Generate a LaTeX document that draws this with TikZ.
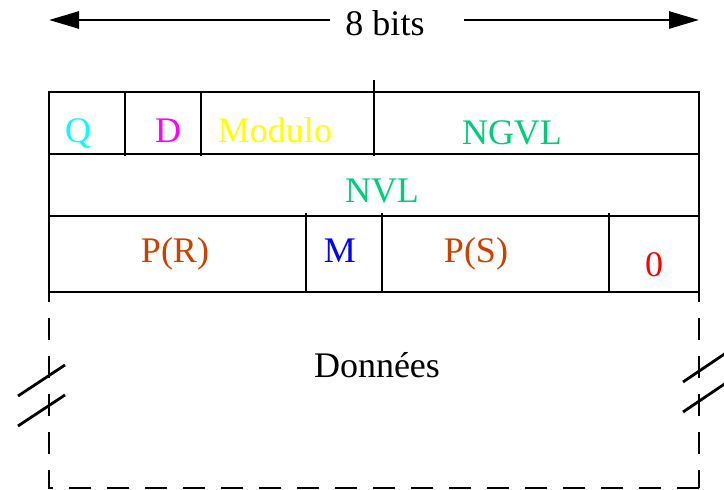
\documentclass[tikz,border=0pt]{standalone}
\usepackage{fontspec}
\setmainfont{Liberation Serif}
\usetikzlibrary{arrows.meta}
\definecolor{vert}{RGB}{0,204,122}
\definecolor{brique}{RGB}{204,64,0}
\definecolor{cyanq}{RGB}{0,255,255}
\definecolor{magd}{RGB}{255,0,255}
\definecolor{jaune}{RGB}{255,255,0}
\definecolor{bleu}{RGB}{0,0,255}
\definecolor{rouge}{RGB}{255,0,0}
\tikzset{
  champ/.style={anchor=base, inner sep=0pt, font=\fontsize{18}{22}\selectfont},
  trait/.style={line width=1.4pt},
  tirets/.style={trait, dash pattern=on 11pt off 8pt, dash phase=11pt},
  fleche/.style={line width=1.4pt, -{Triangle[length=15pt,width=8.5pt]}}
}
\begin{document}
\begin{tikzpicture}[x=0.5pt,y=-0.5pt]
    \useasboundingbox (0,0) rectangle (724,490);

    % Largeur
    \node[champ] (bits) at (385,36) {8 bits};
    \coordinate (fg) at (49,20);
    \coordinate (fd) at (699,20);
    \draw[fleche] (330,20) -- (fg);
    \draw[fleche] (464,20) -- (fd);

    % Cadre de l'en-tete
    \draw[trait] (49,92) rectangle (699,292);
    \draw[trait] (49,154) -- (699,154);
    \draw[trait] (49,216) -- (699,216);
    \draw[trait] (699,292) -- (699,302);
    \draw[trait] (49,292) -- (49,302);

    % Separations ligne 1
    \foreach \x in {125,201} {
      \draw[trait] (\x,92) -- (\x,156);
    }
    \draw[trait] (374,80) -- (374,156);

    % Separations ligne 3
    \foreach \x in {306,382,609} {
      \draw[trait] (\x,213) -- (\x,292);
    }

    % Champs
    \node[champ, text=cyanq] (q) at (78,143) {Q};
    \node[champ, text=magd] (d) at (168,143) {D};
    \node[champ, text=jaune] (mod) at (275,143) {Modulo};
    \node[champ, text=vert] (ngvl) at (512,145) {NGVL};
    \node[champ, text=vert] (nvl) at (382,203) {NVL};
    \node[champ, text=brique] (pr) at (175,263) {P(R)};
    \node[champ, text=bleu] (m) at (340,263) {M};
    \node[champ, text=brique] (ps) at (476,263) {P(S)};
    \node[champ, text=rouge] (zero) at (654,277) {0};

    % Donnees
    \draw[tirets] (49,302) -- (49,488) -- (699,488);
    \draw[tirets] (699,302) -- (699,488);
    \node[champ] (don) at (377,378) {Données};

    % Coupures
    \foreach \y in {0,30} {
      \draw[trait] (18,396+\y) -- (65,365+\y);
      \draw[trait] (683,382+\y) -- (726,353+\y);
    }
  \end{tikzpicture}
\end{document}
